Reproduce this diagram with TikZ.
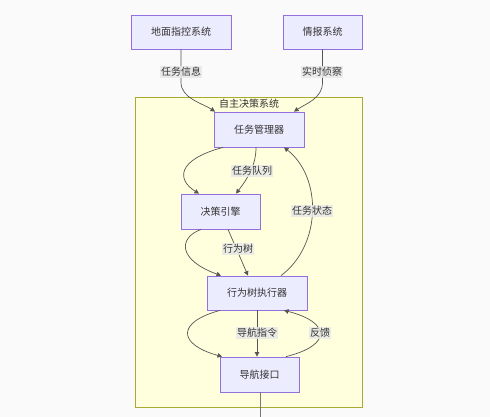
\documentclass[tikz,border=0pt]{standalone}
\usepackage{fontspec}
\newfontfamily\cjk{Noto Sans CJK SC}
\usetikzlibrary{arrows.meta}
\definecolor{bgc}{HTML}{FAFAFA}
\definecolor{nodefill}{HTML}{ECECFF}
\definecolor{nodeline}{HTML}{9370DB}
\definecolor{clfill}{HTML}{FFFFDE}
\definecolor{clline}{HTML}{AAAA33}
\definecolor{lblfill}{HTML}{E8E8E8}
\definecolor{txt}{HTML}{333333}
\definecolor{edge}{HTML}{555555}
\tikzset{
  box/.style={draw=nodeline, fill=nodefill, line width=0.8pt, text=txt, inner sep=0pt,
    font=\cjk\fontsize{10}{12}\selectfont, anchor=center},
  lbl/.style={fill=lblfill, fill opacity=0.85, text opacity=1, text=txt, inner sep=1pt,
    font=\cjk\fontsize{10}{12}\selectfont},
  conn/.style={draw=edge, line width=0.7pt, -{Triangle[length=4.5pt,width=4.5pt]}},
}
\begin{document}
\begin{tikzpicture}[x=1pt,y=-1pt]
\fill[bgc] (0,0) rectangle (490,417);
\useasboundingbox (0,0) rectangle (490,417);
% cluster
\node[draw=clline, fill=clfill, line width=0.8pt, minimum width=227pt, minimum height=310pt, inner sep=0pt] (cl) at (248.5,252) {};
\node[text=txt, font=\cjk\fontsize{10}{12}\selectfont, inner sep=0pt] (clt) at (249,104) {自主决策系统};
% nodes
\node[box, minimum width=100pt, minimum height=34pt] (A) at (181,32) {地面指控系统};
\node[box, minimum width=79pt, minimum height=34pt] (B) at (322.5,32) {情报系统};
\node[box, minimum width=90pt, minimum height=35pt] (C) at (259,129.5) {任务管理器};
\node[box, minimum width=79pt, minimum height=35pt] (D) at (220.5,211.5) {决策引擎};
\node[box, minimum width=100pt, minimum height=34pt] (E) at (257,293) {行为树执行器};
\node[box, minimum width=79pt, minimum height=35pt] (F) at (259.5,374.5) {导航接口};
\coordinate (out) at (260,417);
% edges
\draw[conn] (A.south) -- ++(0,33) .. controls +(0,16) and +(-12,-8) .. ([xshift=-44pt]C.north);
\draw[conn] (B.south) -- ++(0,33) .. controls +(0,16) and +(12,-8) .. ([xshift=35pt]C.north);
\draw[conn] ([xshift=-36pt]C.south) .. controls (176,160) and (177,180) .. ([xshift=-21.5pt]D.north);
\draw[conn] ([xshift=-3pt]C.south) .. controls (256,165) and (248,178) .. ([xshift=15.5pt]D.north);
\draw[conn] ([xshift=24pt]E.north) .. controls (322,245) and (322,177) .. ([xshift=25pt]C.south);
\draw[conn] ([xshift=-19.5pt]D.south) .. controls (178,238) and (178,260) .. ([xshift=-36pt]E.north);
\draw[conn] ([xshift=7.5pt]D.south) -- ([xshift=-9pt]E.north);
\draw[conn] ([xshift=-37pt]E.south) .. controls (177,322) and (177,344) .. ([xshift=-37.5pt]F.north);
\draw[conn] ([xshift=0pt]E.south) -- ([xshift=-2.5pt]F.north);
\draw[conn] ([xshift=26.5pt]F.north) .. controls (333,345) and (330,322) .. ([xshift=27pt]E.south);
\draw[draw=edge!80, line width=1pt] ([xshift=0.5pt]F.south) -- (out);
% labels
\node[lbl] (l1) at (181,72) {任务信息};
\node[lbl] (l2) at (322,72) {实时侦察};
\node[lbl] (l3) at (252,171) {任务队列};
\node[lbl] (l4) at (312,211) {任务状态};
\node[lbl] (l5) at (238,249) {行为树};
\node[lbl] (l6) at (257,333) {导航指令};
\node[lbl] (l7) at (320,333) {反馈};
\end{tikzpicture}
\end{document}
